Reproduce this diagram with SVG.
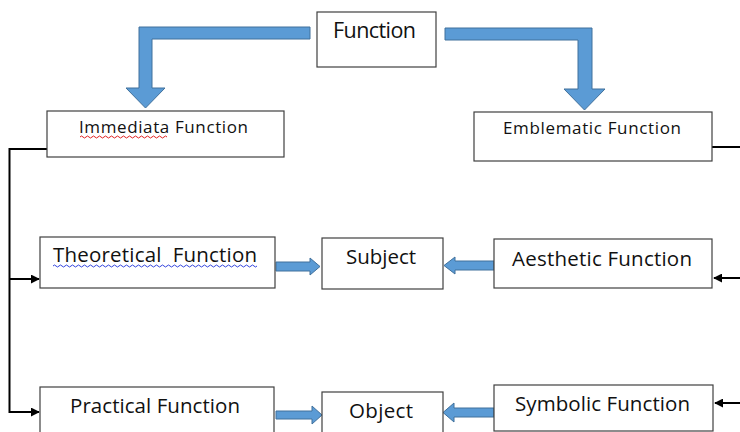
<svg xmlns="http://www.w3.org/2000/svg" width="740" height="432" viewBox="0 0 740 432">
  <defs>
    <style>
      .box { fill: #ffffff; stroke: #404040; stroke-width: 1.2; }
      .lbl { font-family: "Open Sans", "Liberation Sans", sans-serif; fill: #111111; }
      .big { font-size: 20.5px; }
      .small { font-size: 17px; }
      .block { fill: #5b9bd5; stroke: #41719c; stroke-width: 1; }
      .wire { fill: none; stroke: #000000; stroke-width: 2; }
      .squig { fill: none; stroke-width: 1; }
    </style>
    <marker id="tip" viewBox="0 0 10 10" refX="9" refY="5" markerWidth="4.5" markerHeight="4.5" orient="auto" markerUnits="strokeWidth">
      <path d="M0,0 L10,5 L0,10 Z" fill="#000000"/>
    </marker>
  </defs>

  <!-- connectors -->
  <g id="connectors">
    <!-- bent block arrows from the top node -->
    <polygon class="block" points="310,27 139,27 139,88 126,88 145.5,108 165,88 152,88 152,39 310,39"/>
    <polygon class="block" points="445,28 592,28 592,89 605,89 584.5,110 564,89 578,89 578,40 445,40"/>

    <!-- small block arrows into Subject / Object -->
    <polygon class="block" points="276,262 310,262 310,258 320,266.5 310,275 310,271 276,271"/>
    <polygon class="block" points="494,261 455,261 455,257 444,265.5 455,274 455,270 494,270"/>
    <polygon class="block" points="276,411 312,411 312,406 322,415 312,424 312,419 276,419"/>
    <polygon class="block" points="494,408 454,408 454,403 443,412.5 454,422 454,417 494,417"/>

    <!-- left bracket -->
    <path class="wire" d="M47,149 H9.5 V412 H39" marker-end="url(#tip)"/>
    <path class="wire" d="M9.5,279 H39" marker-end="url(#tip)"/>

    <!-- right side -->
    <path class="wire" d="M712,147 H740"/>
    <path class="wire" d="M740,278 H714" marker-end="url(#tip)"/>
    <path class="wire" d="M740,403 H715" marker-end="url(#tip)"/>
  </g>

  <g id="function">
    <rect class="box" x="317" y="12" width="119" height="55"/>
    <text class="lbl" x="333" y="38" font-size="21.5" textLength="83">Function</text>
  </g>

  <g id="immediata">
    <rect class="box" x="47" y="111" width="237" height="46"/>
    <text class="lbl small" x="79" y="133" textLength="169">Immediata Function</text>
    <path class="squig" stroke="#e02020" d="M80,137 q1.5,-2 3,0 t3,0 t3,0 t3,0 t3,0 t3,0 t3,0 t3,0 t3,0 t3,0 t3,0 t3,0 t3,0 t3,0 t3,0 t3,0 t3,0 t3,0 t3,0 t3,0 t3,0 t3,0 t3,0 t3,0 t3,0 t3,0 t3,0 t3,0 t3,0"/>
  </g>

  <g id="emblematic">
    <rect class="box" x="474" y="112" width="238" height="49"/>
    <text class="lbl small" x="503" y="134" textLength="178">Emblematic Function</text>
  </g>

  <g id="theoretical">
    <rect class="box" x="40" y="237" width="235" height="51"/>
    <text class="lbl big" x="53" y="262" textLength="204" xml:space="preserve">Theoretical  Function</text>
    <path class="squig" stroke="#3344dd" d="M53,266 q1.5,-2 3,0 t3,0 t3,0 t3,0 t3,0 t3,0 t3,0 t3,0 t3,0 t3,0 t3,0 t3,0 t3,0 t3,0 t3,0 t3,0 t3,0 t3,0 t3,0 t3,0 t3,0 t3,0 t3,0 t3,0 t3,0 t3,0 t3,0 t3,0 t3,0 t3,0 t3,0 t3,0 t3,0 t3,0 t3,0 t3,0 t3,0 t3,0 t3,0 t3,0 t3,0 t3,0 t3,0 t3,0 t3,0 t3,0 t3,0 t3,0 t3,0 t3,0 t3,0 t3,0 t3,0 t3,0 t3,0 t3,0 t3,0 t3,0 t3,0 t3,0 t3,0 t3,0 t3,0 t3,0 t3,0 t3,0 t3,0 t3,0"/>
  </g>

  <g id="subject">
    <rect class="box" x="322" y="238" width="121" height="51"/>
    <text class="lbl big" x="346" y="264" textLength="70">Subject</text>
  </g>

  <g id="aesthetic">
    <rect class="box" x="494" y="239" width="218" height="49"/>
    <text class="lbl big" x="512" y="266" textLength="180">Aesthetic Function</text>
  </g>

  <g id="practical">
    <rect class="box" x="40" y="387" width="234" height="60"/>
    <text class="lbl big" x="70" y="413" textLength="170">Practical Function</text>
  </g>

  <g id="object">
    <rect class="box" x="322" y="392" width="121" height="60"/>
    <text class="lbl big" x="349" y="418" textLength="64">Object</text>
  </g>

  <g id="symbolic">
    <rect class="box" x="494" y="385" width="219" height="46"/>
    <text class="lbl big" x="515" y="411" textLength="175">Symbolic Function</text>
  </g>
</svg>
